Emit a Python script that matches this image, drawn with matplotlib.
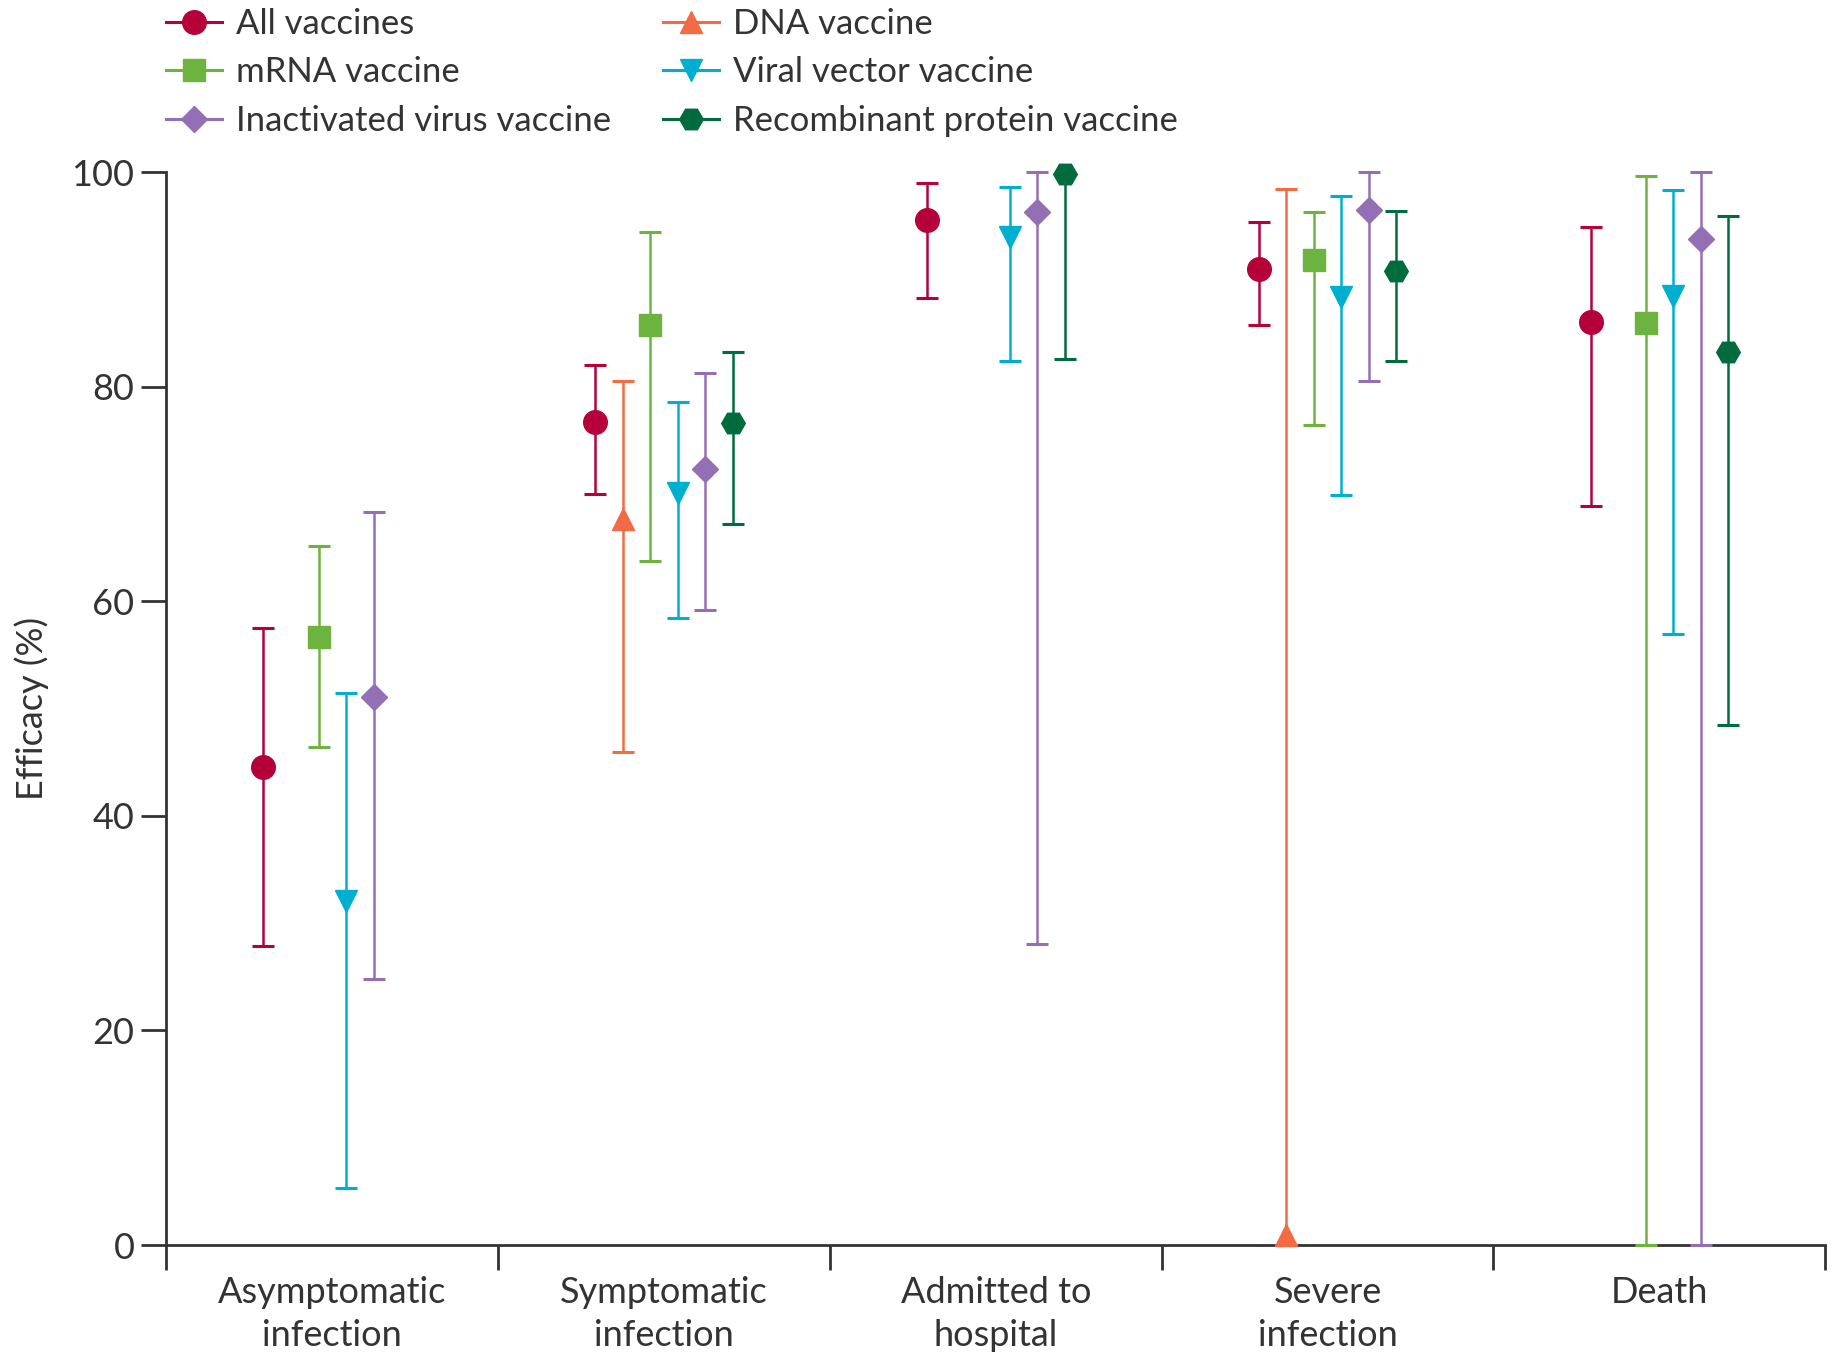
import matplotlib.pyplot as plt
import numpy as np

plt.rcParams['font.family'] = ['Lato', 'DejaVu Sans']

# outcome categories on the x axis
outcomes = ["Asymptomatic\ninfection", "Symptomatic\ninfection", "Admitted to\nhospital",
            "Severe\ninfection", "Death"]

nan = np.nan
# point estimates, lower and upper CI for each vaccine type (per outcome)
all_est = [44.6, 76.7, 95.5, 91.0, 86.0]
all_lo = [27.9, 70.0, 88.3, 85.8, 68.9]
all_hi = [57.5, 82.0, 99.0, 95.4, 94.9]

dna_est = [nan, 67.7, nan, 0.9, nan]
dna_lo = [nan, 46.0, nan, 0.0, nan]
dna_hi = [nan, 80.5, nan, 98.4, nan]

mrna_est = [56.7, 85.8, nan, 91.8, 85.9]
mrna_lo = [46.4, 63.8, nan, 76.4, 0.0]
mrna_hi = [65.2, 94.4, nan, 96.3, 99.6]

viral_est = [32.1, 70.1, 94.0, 88.4, 88.5]
viral_lo = [5.3, 58.4, 82.4, 69.9, 57.0]
viral_hi = [51.5, 78.6, 98.6, 97.8, 98.3]

inact_est = [51.1, 72.3, 96.3, 96.5, 93.8]
inact_lo = [24.8, 59.2, 28.1, 80.5, 0.0]
inact_hi = [68.3, 81.3, 100.0, 100.0, 100.0]

recomb_est = [nan, 76.6, 99.8, 90.8, 83.2]
recomb_lo = [nan, 67.2, 82.6, 82.4, 48.5]
recomb_hi = [nan, 83.2, 99.8, 96.4, 95.9]

series = [
    ("All vaccines", all_est, all_lo, all_hi, "#B5003A", "o"),
    ("DNA vaccine", dna_est, dna_lo, dna_hi, "#F26B43", "^"),
    ("mRNA vaccine", mrna_est, mrna_lo, mrna_hi, "#6DB33F", "s"),
    ("Viral vector vaccine", viral_est, viral_lo, viral_hi, "#00AECF", "v"),
    ("Inactivated virus vaccine", inact_est, inact_lo, inact_hi, "#9370B5", "D"),
    ("Recombinant protein vaccine", recomb_est, recomb_lo, recomb_hi, "#006B3C", "H"),
]

fig = plt.figure(figsize=(18.37, 13.61), dpi=100)
ax = fig.add_axes([0.0906, 0.0852, 0.9030, 0.7883])

x = np.arange(len(outcomes))
step = 0.083
handles = []
for i, (name, est, lo, hi, col, mk) in enumerate(series):
    est = np.array(est); lo = np.array(lo); hi = np.array(hi)
    xi = x + (i - 2.5) * step
    ms = {"o": 17, "s": 16, "H": 17, "^": 16, "v": 16, "D": 13}[mk]
    ax.errorbar(xi, est, yerr=[est - lo, hi - est], fmt=mk, color=col, ms=ms,
                ecolor=col, elinewidth=1.8, capsize=8, capthick=2.2,
                clip_on=False, zorder=3)
    h, = ax.plot([], [], color=col, marker=mk, ms=ms, lw=2.2)
    handles.append(h)

ax.set_xlim(-0.5, 4.5)
ax.set_ylim(0, 100)
ax.set_xticks(np.arange(-0.5, 5.0, 1.0))
ax.set_xticklabels([])
ax.set_xticks(x, minor=True)
ax.set_xticklabels(outcomes, minor=True, fontsize=26, color="#333333", linespacing=1.4)
ax.tick_params(axis="x", which="minor", length=0, pad=22)
ax.tick_params(axis="x", which="major", length=18, width=2, color="#333333")
ax.set_yticks([0, 20, 40, 60, 80, 100])
ax.tick_params(axis="y", length=18, width=2, color="#333333", labelsize=26,
               labelcolor="#333333", pad=5)
for s in ["top", "right"]:
    ax.spines[s].set_visible(False)
for s in ["left", "bottom"]:
    ax.spines[s].set_linewidth(2)
    ax.spines[s].set_color("#333333")
ax.set_ylabel("Efficacy (%)", fontsize=26, color="#333333", labelpad=16)

# legend order: column by column as in the figure
order = [0, 2, 4, 1, 3, 5]
fig.legend([handles[k] for k in order], [series[k][0] for k in order],
           loc="upper left", bbox_to_anchor=(0.0736, 1.017), ncol=2, frameon=False,
           fontsize=25, handlelength=1.6, handletextpad=0.4, columnspacing=1.5,
           labelspacing=0.47, labelcolor="#333333")

fig.savefig("out.png", dpi=100)
